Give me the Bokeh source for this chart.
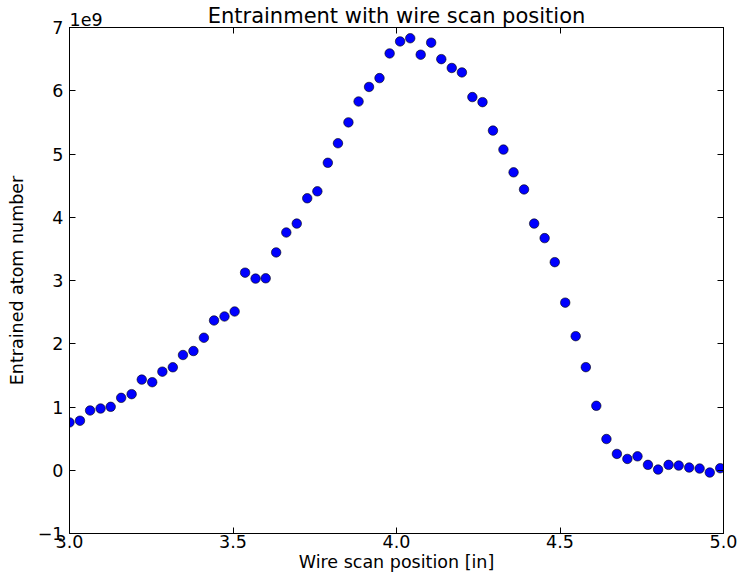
from bokeh.plotting import figure
from bokeh.models import (ColumnDataSource, Range1d, FixedTicker, LinearAxis,
                          CustomJSTickFormatter, Label)
from bokeh.embed import file_html
from bokeh.resources import INLINE

# ---- data ----
wire_position_in = [
    3.000, 3.032, 3.063, 3.095, 3.126, 3.158, 3.190, 3.221, 3.253, 3.284,
    3.316, 3.347, 3.379, 3.411, 3.442, 3.474, 3.505, 3.537, 3.569, 3.600,
    3.632, 3.663, 3.695, 3.727, 3.758, 3.790, 3.821, 3.853, 3.884, 3.916,
    3.948, 3.979, 4.011, 4.042, 4.074, 4.106, 4.137, 4.169, 4.200, 4.232,
    4.263, 4.295, 4.327, 4.358, 4.390, 4.421, 4.453, 4.484, 4.516, 4.548,
    4.579, 4.611, 4.642, 4.674, 4.706, 4.737, 4.769, 4.800, 4.832, 4.863,
    4.895, 4.927, 4.958, 4.990,
]
atoms_1e9 = [
    0.756, 0.783, 0.945, 0.976, 1.003, 1.145, 1.203, 1.433, 1.392, 1.559,
    1.628, 1.822, 1.885, 2.095, 2.368, 2.431, 2.510, 3.124, 3.030, 3.035,
    3.444, 3.759, 3.900, 4.300, 4.410, 4.861, 5.170, 5.500, 5.830, 6.060,
    6.200, 6.590, 6.780, 6.830, 6.570, 6.760, 6.500, 6.360, 6.290, 5.900,
    5.820, 5.370, 5.070, 4.710, 4.440, 3.900, 3.670, 3.290, 2.650, 2.120,
    1.630, 1.019, 0.494, 0.258, 0.179, 0.220, 0.085, 0.011, 0.085, 0.074,
    0.043, 0.027, -0.036, 0.032,
]
x_ticks = [3.0, 3.5, 4.0, 4.5, 5.0]
y_ticks = [-1, 0, 1, 2, 3, 4, 5, 6, 7]
title_text = "Entrainment with wire scan position"
x_label = "Wire scan position [in]"
y_label = "Entrained atom number"
offset_text = "1e9"

FONT = "DejaVu Sans"
FS = "17.5px"
X0, X1 = 3.0, 5.0
Y0, Y1 = -1, 7

src = ColumnDataSource(dict(x=wire_position_in, y=atoms_1e9))

p = figure(width=740, height=587, x_range=Range1d(X0, X1), y_range=Range1d(Y0, Y1),
           output_backend="svg", toolbar_location=None, title=title_text,
           min_border_left=69, min_border_right=17, min_border_top=27, min_border_bottom=52,
           background_fill_color="white", border_fill_color="white")

p.title.text_font = FONT
p.title.text_font_size = "21px"
p.title.text_font_style = "normal"
p.title.align = "center"
p.title.standoff = 0
p.title.text_color = "black"

p.outline_line_color = "black"
p.outline_line_width = 1
p.xgrid.visible = False
p.ygrid.visible = False

p.scatter(x="x", y="y", source=src, size=9.5, fill_color="#0000ff",
          line_color="black", line_width=0.6)

xfmt = CustomJSTickFormatter(code="return tick.toFixed(1);")
yfmt = CustomJSTickFormatter(code="return (tick < 0 ? '\\u2212' : '') + Math.abs(tick).toFixed(0);")

def style_axis(ax, show_labels=True):
    ax.axis_line_color = "black"
    ax.axis_line_width = 1
    ax.major_tick_in = 6
    ax.major_tick_out = 0
    ax.major_tick_line_color = "black"
    ax.minor_tick_line_color = None
    ax.major_label_text_font = FONT
    ax.major_label_text_color = "black"
    ax.axis_label_text_font = FONT
    ax.axis_label_text_font_style = "normal"
    ax.axis_label_text_font_size = FS
    ax.axis_label_text_color = "black"
    if show_labels:
        ax.major_label_text_font_size = FS
    else:
        ax.major_label_text_font_size = "0px"
        ax.major_label_text_color = None
        ax.major_label_standoff = 0

xa = p.xaxis[0]
xa.ticker = FixedTicker(ticks=x_ticks)
xa.formatter = xfmt
style_axis(xa)
xa.major_label_standoff = 1
xa.axis_label = x_label
xa.axis_label_standoff = 1

ya = p.yaxis[0]
ya.ticker = FixedTicker(ticks=y_ticks)
ya.formatter = yfmt
style_axis(ya)
ya.major_label_standoff = 6
ya.axis_label = y_label
ya.axis_label_standoff = 8

top_ax = LinearAxis(ticker=FixedTicker(ticks=x_ticks),
                    formatter=CustomJSTickFormatter(code="return '';"))
style_axis(top_ax, show_labels=False)
p.add_layout(top_ax, "above")

right_ax = LinearAxis(ticker=FixedTicker(ticks=y_ticks),
                      formatter=CustomJSTickFormatter(code="return '';"))
style_axis(right_ax, show_labels=False)
p.add_layout(right_ax, "right")

# offset text "1e9": anchored at the top-left corner of the data area,
# hosted in a side panel so that it is not clipped by the frame
p.add_layout(Label(x=X0, y=Y1, text=offset_text, x_offset=0, y_offset=2,
                   text_baseline="bottom", text_align="left",
                   text_font=FONT, text_font_size=FS, text_color="black"), "below")

open("out.html", "w").write(file_html(p, INLINE))
